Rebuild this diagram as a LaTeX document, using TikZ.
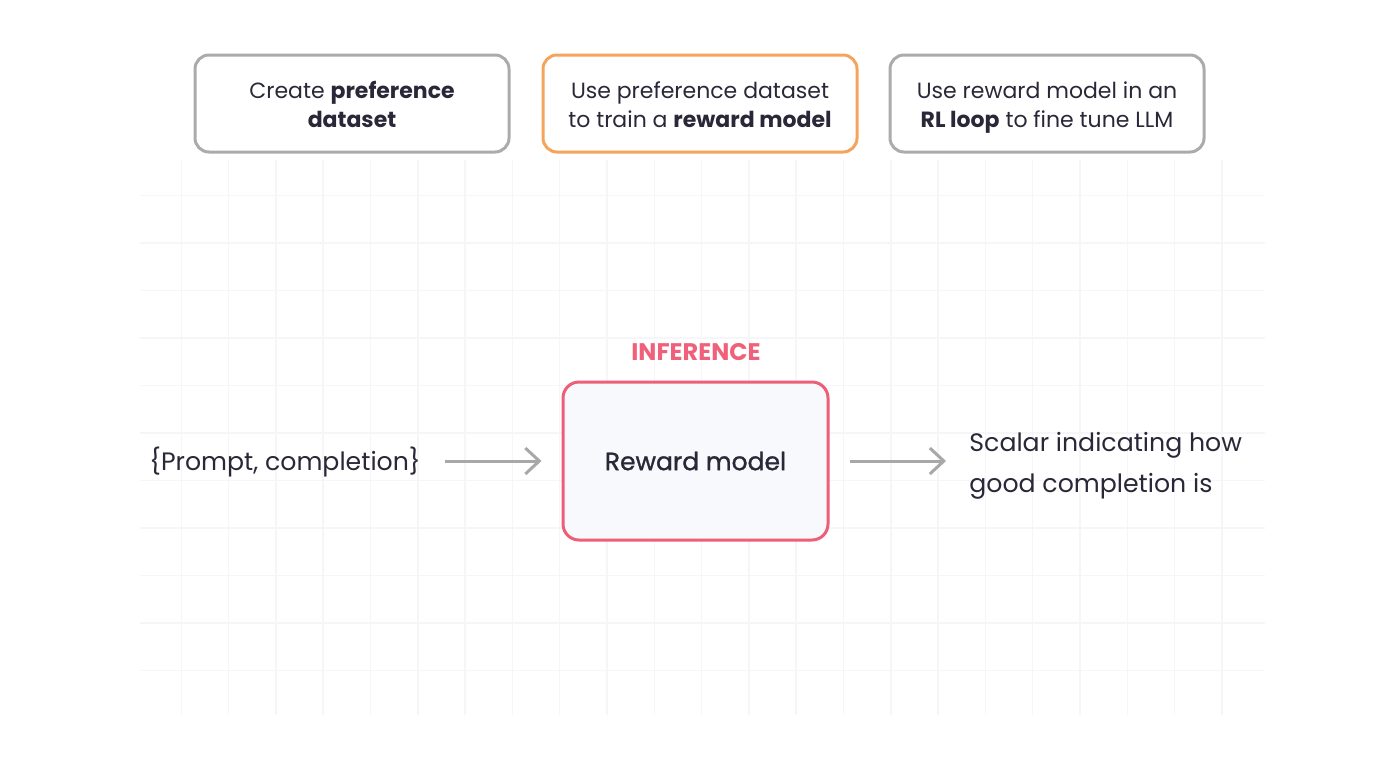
\documentclass[tikz,border=0pt]{standalone}
\usepackage{fontspec}
\setmainfont{Poppins}
\newfontfamily\pmed{Poppins}[FakeBold=1.2]
\usetikzlibrary{arrows.meta}
\definecolor{ink}{HTML}{2A2838}
\definecolor{graybd}{HTML}{ABABAB}
\definecolor{orangebd}{HTML}{F6A45C}
\definecolor{pinkbd}{HTML}{EE5E78}
\definecolor{pinktx}{HTML}{F0607A}
\definecolor{arrowc}{HTML}{A8A8A8}
\definecolor{gridc}{HTML}{F6F6F8}
\definecolor{boxfill}{HTML}{F8F9FC}
\newcommand{\twolines}[2]{#1\strut\\#2\strut}
\newcommand{\twolinesdown}[2]{\rule{0pt}{\dimexpr\ht\strutbox+4pt\relax}#1\strut\\#2\strut}
\tikzset{
  topbox/.style={draw=graybd, line width=1.5pt, rounded corners=7pt, fill=white,
    minimum width=157pt, minimum height=48.5pt, align=center, text=ink,
    font=\fontsize{11}{14.5}\selectfont},
  flowarrow/.style={draw=arrowc, line width=1.5pt,
    -{Straight Barb[length=7pt,width=13pt,line width=1.5pt]}},
  plain/.style={text=ink, inner sep=0pt, font=\fontsize{12.6}{20.5}\selectfont}
}
\begin{document}
\begin{tikzpicture}[x=0.5pt,y=-0.5pt]
\useasboundingbox[fill=white] (0,0) rectangle (1400,772);
% faint grid
\foreach \i in {1,...,23} {
  \draw[gridc, line width=0.75pt] ({134+47.3*\i},160) -- ({134+47.3*\i},715);
}
\foreach \j in {1,...,11} {
  \draw[gridc, line width=0.75pt] (140,{148+47.5*\j}) -- (1265,{148+47.5*\j});
}
% top boxes
\node[topbox] (b1) at (352,103.5) {\twolinesdown{Create \textbf{preference}}{\textbf{dataset}}};
\node[topbox, draw=orangebd] (b2) at (700,103.5) {\twolinesdown{Use preference dataset}{to train a \textbf{reward model}}};
\node[topbox] (b3) at (1047,103.5) {\twolinesdown{Use reward model in an}{\textbf{RL loop} to fine tune LLM}};
% inference
\node[text=pinktx, font=\fontsize{12}{14}\selectfont\bfseries] (inf) at (696,352) {INFERENCE};
\node[draw=pinkbd, line width=1.5pt, rounded corners=8pt, fill=boxfill,
  minimum width=132.5pt, minimum height=79pt, text=ink,
  font=\fontsize{12.5}{15}\selectfont\pmed] (rm) at (695.5,461) {Reward model};
\node[plain, anchor=east] (in) at (421,462) {\{Prompt, completion\}};
\node[plain, anchor=west, align=left] (out) at (969,463.5) {\twolines{Scalar indicating how}{good completion is}};
\draw[flowarrow, shorten <=12pt, shorten >=10pt] (in.east |- rm.west) -- (rm.west);
\draw[flowarrow, shorten <=10pt, shorten >=11.5pt] (rm.east) -- (out.west |- rm.east);
\end{tikzpicture}
\end{document}
